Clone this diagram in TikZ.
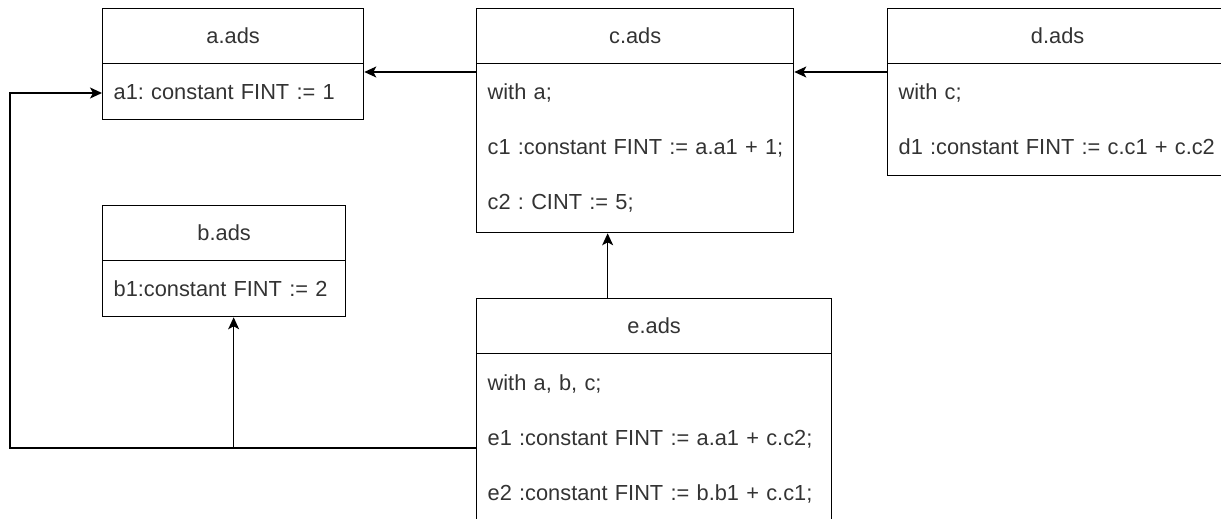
\documentclass[tikz,border=0pt]{standalone}
\usepackage{fontspec}
\setmainfont{Liberation Sans}
\frenchspacing
\usetikzlibrary{arrows.meta}
\definecolor{txt}{HTML}{333333}
\tikzset{
  hdr/.style={draw=black, line width=1.3pt, anchor=north west, inner sep=0pt, minimum height=55pt, text=txt, font=\fontsize{21.8}{26}\selectfont},
  bdy/.style={draw=black, line width=1.3pt, anchor=north west, inner xsep=11pt, inner ysep=0pt, align=left, text=txt, font=\fontsize{21.8}{55}\selectfont},
  arr/.style={draw=black, line width=1.3pt, -{Stealth[length=12pt, width=11pt, inset=3pt]}}
}
\begin{document}
\begin{tikzpicture}[x=1pt, y=-1pt]
\useasboundingbox (0,0) rectangle (1221,519);
% a
\node[hdr, minimum width=261pt] (ahead) at (102,8) {a.ads};
\node[bdy, text width=239pt, minimum height=56pt] (abody) at (102,63) {\mbox{a1: constant FINT := 1}};
% b
\node[hdr, minimum width=243pt] (bhead) at (102,205) {b.ads};
\node[bdy, text width=221pt, minimum height=56pt] (bbody) at (102,260) {\mbox{b1:constant FINT := 2}};
% c
\node[hdr, minimum width=317pt] (chead) at (476,8) {c.ads};
\node[bdy, text width=295pt, minimum height=169pt] (cbody) at (476,63) {\mbox{with a;}\\\mbox{c1 :constant FINT := a.a1 + 1;}\\\mbox{c2 : CINT := 5;}};
% d
\node[hdr, minimum width=340pt] (dhead) at (887,8) {d.ads};
\node[bdy, text width=318pt, minimum height=112pt] (dbody) at (887,63) {\mbox{with c;}\\\mbox{d1 :constant FINT := c.c1 + c.c2}};
% e
\node[hdr, minimum width=355pt] (ehead) at (476,298) {e.ads};
\node[bdy, text width=333pt, minimum height=170pt] (ebody) at (476,353) {\mbox{with a, b, c;}\\\mbox{e1 :constant FINT := a.a1 + c.c2;}\\\mbox{e2 :constant FINT := b.b1 + c.c1;}};
% connectors
\coordinate (cin) at ([xshift=-27.5pt]cbody.south);
\draw[arr] ([yshift=-9pt]cbody.north west) -- ([yshift=-9pt]abody.north east);
\draw[arr] ([yshift=-9pt]dbody.north west) -- ([yshift=-9pt]cbody.north east);
\draw[arr] (ehead.north -| cin) -- (cin);
\draw[arr] ([yshift=-95pt]ebody.north west) -- ++(-466pt,0) coordinate (lft) |- ([yshift=-30pt]abody.north west);
\draw[arr] ([yshift=-95pt]ebody.north west) -| ([xshift=9.5pt]bbody.south);
\end{tikzpicture}
\end{document}
